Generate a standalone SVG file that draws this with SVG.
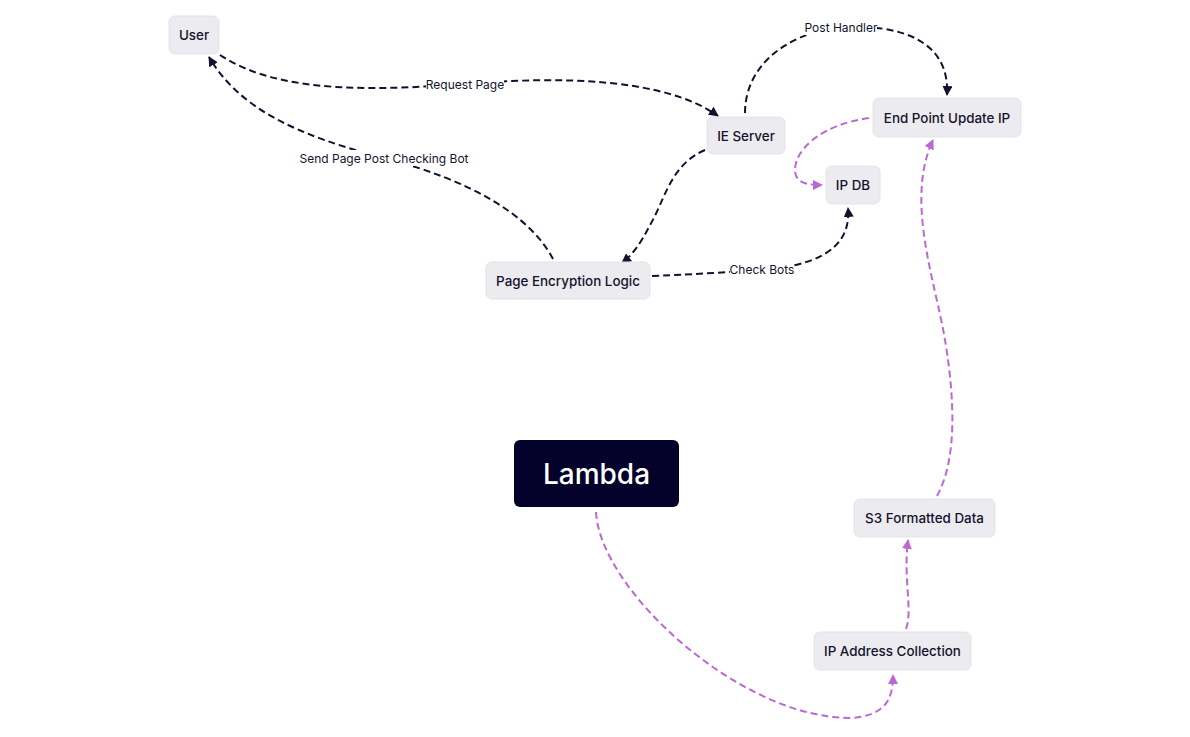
<svg xmlns="http://www.w3.org/2000/svg" width="1190" height="737" viewBox="0 0 1190 737">
<style>
.node rect{fill:#ecebef;stroke:#e4e2e8;stroke-width:1}
.node text{font-family:Inter,"Noto Sans","Liberation Sans",sans-serif;font-size:13.4px;font-weight:500;fill:#14132e;text-anchor:middle;dominant-baseline:central}
.dark rect{fill:#04022a;stroke:none}
.dark text{fill:#ffffff;font-size:28px;font-weight:500}
.e{fill:none;stroke-width:2;stroke-dasharray:7 4}
.ed{stroke:#12122e;marker-end:url(#ad)}
.ep{stroke:#bc68d2;marker-end:url(#ap)}
.lb{fill:#ffffff}
.lbl{font-family:Inter,"Noto Sans","Liberation Sans",sans-serif;font-size:12px;fill:#14132e;text-anchor:middle;dominant-baseline:central}
</style>
<defs>
<marker id="ad" viewBox="0 0 10 10" refX="9" refY="5" markerWidth="5" markerHeight="5" orient="auto" markerUnits="strokeWidth"><path d="M0 0L10 5L0 10z" fill="#12122e"/></marker>
<marker id="ap" viewBox="0 0 10 10" refX="9" refY="5" markerWidth="5" markerHeight="5" orient="auto" markerUnits="strokeWidth"><path d="M0 0L10 5L0 10z" fill="#bc68d2"/></marker>
</defs>
<rect width="1190" height="737" fill="#ffffff"/>
<g id="connectors">
<path class="e ed" d="M220 55 C280 95 380 90 465 84 C560 76 665 78 718 116"/>
<path class="e ed" d="M553 259 C530 215 470 180 384 158 C300 136 240 110 209 57"/>
<path class="e ed" d="M745 113 C745 70 780 35 840 27 C900 24 950 40 947 95"/>
<path class="e ed" d="M705 150 C670 165 665 200 650 225 C640 245 632 255 622 263"/>
<path class="e ed" d="M652 276 C700 274 730 272 762 270 C805 266 852 255 848 208"/>
<path class="e ep" d="M869 118 C820 125 795 150 795 170 C795 182 805 185 822 185"/>
<path class="e ep" d="M937 496 C957 460 955 400 945 340 C935 280 905 200 933 140"/>
<path class="e ep" d="M906 629 C913 610 903 580 908 540"/>
<path class="e ep" d="M596 512 C600 590 740 718 850 718 C885 716 893 700 893 675"/>
<rect class="lb" x="426" y="76" width="78" height="16"/>
<text class="lbl" x="465" y="84">Request Page</text>
<rect class="lb" x="298" y="150" width="172" height="16"/>
<text class="lbl" x="384" y="158">Send Page Post Checking Bot</text>
<rect class="lb" x="805" y="19" width="72" height="16"/>
<text class="lbl" x="841" y="27">Post Handler</text>
<rect class="lb" x="730" y="261" width="64" height="16"/>
<text class="lbl" x="762" y="269">Check Bots</text>
</g>
<g id="user" class="node"><rect x="169" y="16" width="50" height="38" rx="6"/><text x="194" y="35">User</text></g>
<g id="ie-server" class="node"><rect x="707" y="117" width="78" height="37" rx="6"/><text x="746" y="135.5">IE Server</text></g>
<g id="end-point" class="node"><rect x="873" y="98" width="148" height="39" rx="6"/><text x="947" y="117.5">End Point Update IP</text></g>
<g id="ip-db" class="node"><rect x="826" y="166" width="54" height="38" rx="6"/><text x="853" y="185">IP DB</text></g>
<g id="page-enc" class="node"><rect x="486" y="262" width="164" height="37" rx="6"/><text x="568" y="280.5">Page Encryption Logic</text></g>
<g id="lambda" class="node dark"><rect x="514" y="440" width="165" height="67" rx="6"/><text x="596.5" y="473.5">Lambda</text></g>
<g id="s3" class="node"><rect x="854" y="499" width="141" height="38" rx="6"/><text x="924.5" y="518">S3 Formatted Data</text></g>
<g id="ip-collect" class="node"><rect x="814" y="632" width="157" height="38" rx="6"/><text x="892.5" y="651">IP Address Collection</text></g>
</svg>
